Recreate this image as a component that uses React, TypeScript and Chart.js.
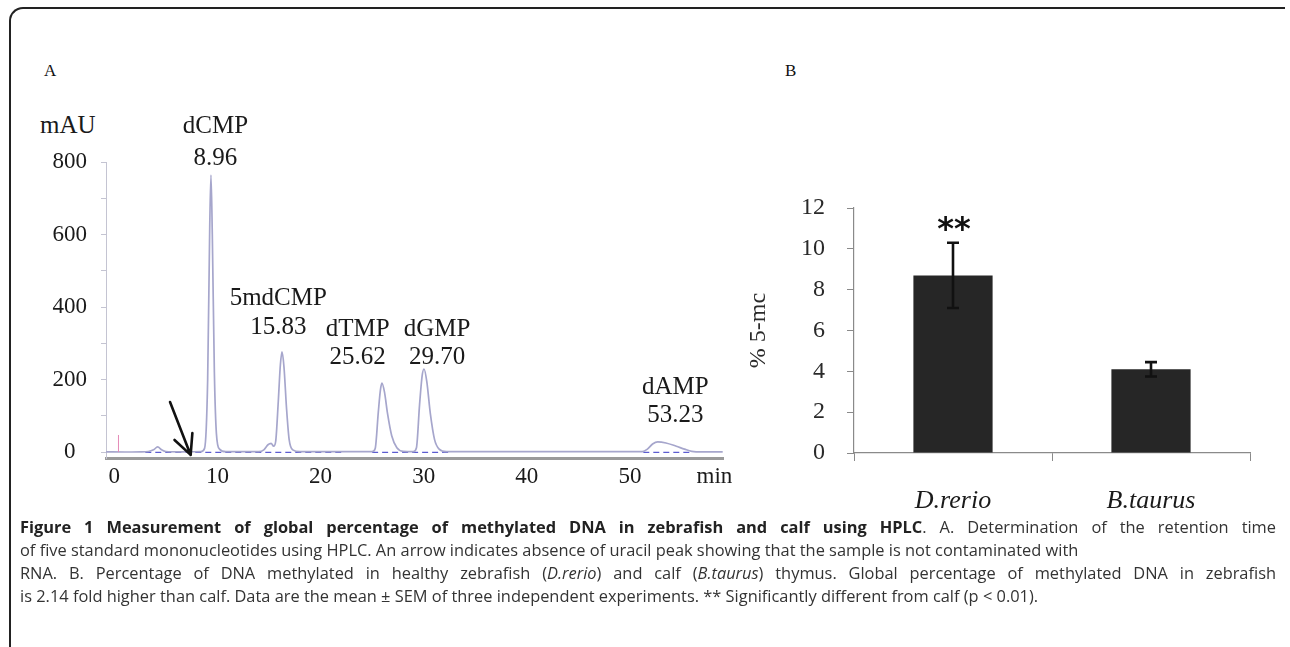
import React, { useEffect, useRef } from 'react';
import { Chart, registerables } from 'chart.js';

Chart.register(...registerables);

// ---------- Panel A: HPLC chromatogram ----------
const traceTimes = [
  -0.8, 1, 2.5, 3.3, 3.8, 4.2, 4.6, 5.0, 6.5, 8.4, 8.75, 9.05, 9.25, 9.37, 9.5, 9.7, 9.9, 10.2, 10.8,
  14.0, 14.5, 14.9, 15.2, 15.45, 15.65, 15.9, 16.1, 16.26, 16.45, 16.7, 16.95, 17.3, 18.0,
  25.0, 25.3, 25.6, 25.8, 25.95, 26.2, 26.5, 26.9, 27.4, 28.0,
  29.0, 29.3, 29.6, 29.85, 30.03, 30.3, 30.65, 31.05, 31.5, 32.2,
  51.2, 51.7, 52.2, 52.7, 53.5, 54.5, 55.3, 56.0, 57.0, 59.0,
];
const traceAbs = [
  0.5, 0, 0.5, 1.5, 6, 14, 6, 1.5, 0.5, 1, 10, 200, 620, 764, 600, 220, 50, 8, 1,
  1, 6, 20, 24, 16, 30, 140, 240, 276, 235, 120, 35, 6, 1,
  1, 10, 110, 170, 190, 165, 105, 45, 12, 2,
  1, 12, 130, 210, 229, 195, 105, 35, 8, 1,
  1, 8, 22, 28, 25, 16, 8, 2, 0.5, 0.5,
];
const baselineTimes = [3, 22, 22.1, 25, 32.5, 32.6, 51.3, 56];
const baselineAbs = [-1, -1, null, -1, -1, null, -1, -1];
const markerTimes = [0.4, 0.4];
const markerAbs = [0, 47];

const peakNames = ['dCMP', '5mdCMP', 'dTMP', 'dGMP', 'dAMP'];
const peakTimeLabels = ['8.96', '15.83', '25.62', '29.70', '53.23'];
const peakLabelX = [9.8, 15.9, 23.6, 31.3, 54.4];
const peakNameY = [897, 425, 337, 337, 177];
const peakTimeY = [810, 345, 262, 262, 102];

const xTickValues = [0, 10, 20, 30, 40, 50, 58.2];
const xTickLabels = ['0', '10', '20', '30', '40', '50', 'min'];
const yTickValuesA = [0, 100, 200, 300, 400, 500, 600, 700, 800];

const arrowFrom = [5.4, 138];
const arrowTo = [7.4, -8];

// ---------- Panel B: % 5-mC bars ----------
const categories = ['D.rerio', 'B.taurus'];
const percent5mc = [8.7, 4.1];
const sem = [1.6, 0.35];
const significance = ['**', ''];

const SERIF = '"Liberation Serif", "Times New Roman", serif';

const toPoints = (xs: number[], ys: (number | null)[]) => xs.map((x, i) => ({ x, y: ys[i] }));

const annotationPlugin = {
  id: 'hplcAnnotations',
  afterDraw(chart: any) {
    const { ctx } = chart;
    const xs = chart.scales.x;
    const ys = chart.scales.y;
    ctx.save();
    // arrow
    const x1 = xs.getPixelForValue(arrowFrom[0]);
    const y1 = ys.getPixelForValue(arrowFrom[1]);
    const x2 = xs.getPixelForValue(arrowTo[0]);
    const y2 = ys.getPixelForValue(arrowTo[1]);
    ctx.strokeStyle = '#111';
    ctx.lineWidth = 2.6;
    ctx.lineCap = 'round';
    ctx.beginPath();
    ctx.moveTo(x1, y1);
    ctx.lineTo(x2, y2);
    const ang = Math.atan2(y1 - y2, x1 - x2);
    const hl = 22;
    const spread = 0.45;
    ctx.moveTo(x2, y2);
    ctx.lineTo(x2 + hl * Math.cos(ang - spread), y2 + hl * Math.sin(ang - spread));
    ctx.moveTo(x2, y2);
    ctx.lineTo(x2 + hl * Math.cos(ang + spread), y2 + hl * Math.sin(ang + spread));
    ctx.stroke();
    // peak labels
    ctx.fillStyle = '#1a1a1a';
    ctx.font = `25px ${SERIF}`;
    ctx.textAlign = 'center';
    ctx.textBaseline = 'middle';
    peakNames.forEach((name, i) => {
      const px = xs.getPixelForValue(peakLabelX[i]);
      ctx.fillText(name, px, ys.getPixelForValue(peakNameY[i]));
      ctx.fillText(peakTimeLabels[i], px, ys.getPixelForValue(peakTimeY[i]));
    });
    ctx.restore();
  },
};

const errorBarPlugin = {
  id: 'errorBars',
  afterDatasetsDraw(chart: any) {
    const { ctx } = chart;
    const ys = chart.scales.y;
    const meta = chart.getDatasetMeta(0);
    ctx.save();
    ctx.strokeStyle = '#111';
    ctx.lineWidth = 2.6;
    meta.data.forEach((bar: any, i: number) => {
      const x = bar.x;
      const top = ys.getPixelForValue(percent5mc[i] + sem[i]);
      const bot = ys.getPixelForValue(percent5mc[i] - sem[i]);
      ctx.beginPath();
      ctx.moveTo(x, top);
      ctx.lineTo(x, bot);
      ctx.moveTo(x - 6, top);
      ctx.lineTo(x + 6, top);
      ctx.moveTo(x - 6, bot);
      ctx.lineTo(x + 6, bot);
      ctx.stroke();
      if (significance[i]) {
        ctx.fillStyle = '#111';
        ctx.font = 'bold 32px "DejaVu Sans", sans-serif';
        ctx.textAlign = 'center';
        ctx.textBaseline = 'alphabetic';
        ctx.fillText(significance[i], x + 1, top - 4);
      }
    });
    ctx.restore();
  },
};

function PanelA() {
  const ref = useRef<HTMLCanvasElement | null>(null);
  useEffect(() => {
    if (!ref.current) return;
    const chart = new Chart(ref.current, {
      type: 'line',
      data: {
        datasets: [
          {
            data: toPoints(markerTimes, markerAbs),
            borderColor: '#e58ab8',
            borderWidth: 1,
            pointRadius: 0,
          },
          {
            data: toPoints(traceTimes, traceAbs),
            borderColor: '#a6a6cc',
            borderWidth: 1.7,
            pointRadius: 0,
            cubicInterpolationMode: 'monotone',
            tension: 0.4,
          },
          {
            data: toPoints(baselineTimes, baselineAbs),
            borderColor: '#5c5cd0',
            borderWidth: 1.2,
            borderDash: [6, 4],
            pointRadius: 0,
            spanGaps: false,
          },
        ],
      } as any,
      options: {
        animation: false,
        responsive: false,
        layout: { padding: { left: 0, top: 162, right: 22, bottom: 0 } },
        plugins: { legend: { display: false }, tooltip: { enabled: false } },
        scales: {
          x: {
            type: 'linear',
            min: -0.81,
            max: 59.03,
            afterBuildTicks: (s: any) => {
              s.ticks = xTickValues.map((v) => ({ value: v }));
            },
            afterFit: (s: any) => {
              s.height = 42;
            },
            grid: { display: false, drawTicks: false },
            border: { display: true, color: '#9a9a9a', width: 3 },
            ticks: {
              autoSkip: false,
              maxRotation: 0,
              padding: 5,
              color: '#1a1a1a',
              font: { family: SERIF, size: 23 },
              callback: (_v: any, i: number) => xTickLabels[i],
            },
          },
          y: {
            min: -16.5,
            max: 800,
            afterBuildTicks: (s: any) => {
              s.ticks = yTickValuesA.map((v) => ({ value: v }));
            },
            afterFit: (s: any) => {
              s.width = 106;
            },
            grid: { drawOnChartArea: false, drawTicks: true, tickLength: 5, color: '#c4c4d2' },
            border: { color: '#c4c4d2', width: 1 },
            ticks: {
              crossAlign: 'center',
              padding: 14,
              color: '#1a1a1a',
              font: { family: SERIF, size: 23 },
              callback: (v: any) => (Number(v) % 200 === 0 ? String(v) : ''),
            },
          },
        },
      } as any,
      plugins: [annotationPlugin],
    });
    return () => chart.destroy();
  }, []);
  return (
    <canvas
      ref={ref}
      width={745}
      height={500}
      style={{ position: 'absolute', left: 0, top: 0, width: 745, height: 500 }}
    />
  );
}

function PanelB() {
  const ref = useRef<HTMLCanvasElement | null>(null);
  useEffect(() => {
    if (!ref.current) return;
    const chart = new Chart(ref.current, {
      type: 'bar',
      data: {
        labels: categories,
        datasets: [
          {
            data: percent5mc,
            backgroundColor: '#262626',
            borderWidth: 0,
            barPercentage: 0.4,
            categoryPercentage: 1,
          },
        ],
      },
      options: {
        animation: false,
        responsive: false,
        layout: { padding: { left: 0, top: 58, right: 30, bottom: 0 } },
        plugins: { legend: { display: false }, tooltip: { enabled: false } },
        scales: {
          x: {
            afterFit: (s: any) => {
              s.height = 77;
            },
            grid: { drawOnChartArea: false, tickLength: 8, color: '#8a8a8a', offset: true },
            border: { color: '#8a8a8a', width: 1.2 },
            ticks: {
              padding: 25,
              color: '#1a1a1a',
              font: { family: SERIF, size: 26, style: 'italic' },
            },
          },
          y: {
            min: 0,
            max: 12,
            afterFit: (s: any) => {
              s.width = 154;
            },
            grid: { drawOnChartArea: false, tickLength: 7, color: '#8a8a8a' },
            border: { color: '#8a8a8a', width: 1.2 },
            ticks: {
              stepSize: 2,
              padding: 22,
              color: '#2a2a2a',
              font: { family: SERIF, size: 24 },
            },
            title: {
              display: true,
              text: '% 5-mc',
              color: '#2a2a2a',
              font: { family: SERIF, size: 24 },
              padding: { top: 44, bottom: 0 },
            },
          },
        },
      } as any,
      plugins: [errorBarPlugin],
    });
    return () => chart.destroy();
  }, []);
  return (
    <canvas
      ref={ref}
      width={580}
      height={380}
      style={{ position: 'absolute', left: 700, top: 150, width: 580, height: 380 }}
    />
  );
}

const lineStyle: React.CSSProperties = { whiteSpace: 'nowrap', height: 23 };
const justifiedLine: React.CSSProperties = {
  whiteSpace: 'nowrap',
  height: 23,
  textAlign: 'justify',
  textAlignLast: 'justify',
  width: 1256,
};

export default function App() {
  return (
    <div
      style={{
        position: 'absolute',
        left: 0,
        top: 0,
        width: 1290,
        height: 647,
        overflow: 'hidden',
        background: '#fff',
      }}
    >
      <div
        style={{
          position: 'absolute',
          left: 9,
          top: 7,
          width: 1276,
          height: 700,
          borderTop: '2px solid #222',
          borderLeft: '2px solid #222',
          borderTopLeftRadius: 14,
          boxSizing: 'border-box',
        }}
      />
      <div style={{ position: 'absolute', left: 44, top: 61, font: `17px ${SERIF}`, color: '#111' }}>A</div>
      <div style={{ position: 'absolute', left: 785, top: 61, font: `17px ${SERIF}`, color: '#111' }}>B</div>
      <div style={{ position: 'absolute', left: 40, top: 111, font: `25px ${SERIF}`, color: '#1a1a1a' }}>mAU</div>
      <PanelA />
      <PanelB />
      <div
        style={{
          position: 'absolute',
          left: 20,
          top: 515,
          fontFamily: '"Open Sans", sans-serif',
          fontSize: 16.4,
          lineHeight: '23px',
          color: '#333',
        }}
      >
        <div style={justifiedLine}>
          <b style={{ color: '#222' }}>
            Figure 1 Measurement of global percentage of methylated DNA in zebrafish and calf using HPLC
          </b>
          . A. Determination of the retention time
        </div>
        <div style={lineStyle}>
          of five standard mononucleotides using HPLC. An arrow indicates absence of uracil peak showing that the
          sample is not contaminated with
        </div>
        <div style={justifiedLine}>
          RNA. B. Percentage of DNA methylated in healthy zebrafish (<i>D.rerio</i>) and calf (<i>B.taurus</i>)
          thymus. Global percentage of methylated DNA in zebrafish
        </div>
        <div style={lineStyle}>
          is 2.14 fold higher than calf. Data are the mean ± SEM of three independent experiments. ** Significantly
          different from calf (p &lt; 0.01).
        </div>
      </div>
    </div>
  );
}
